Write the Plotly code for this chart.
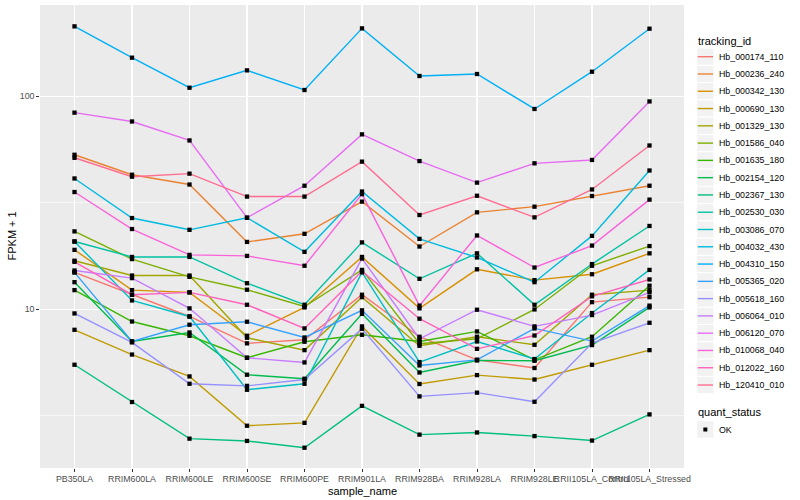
import plotly.graph_objects as go

# ---------------- data ----------------
samples = ["PB350LA", "RRIM600LA", "RRIM600LE", "RRIM600SE", "RRIM600PE", "RRIM901LA",
           "RRIM928BA", "RRIM928LA", "RRIM928LE", "RRII105LA_Control", "RRII105LA_Stressed"]

tracking_ids = ["Hb_000174_110", "Hb_000236_240", "Hb_000342_130", "Hb_000690_130", "Hb_001329_130",
                "Hb_001586_040", "Hb_001635_180", "Hb_002154_120", "Hb_002367_130", "Hb_002530_030",
                "Hb_003086_070", "Hb_004032_430", "Hb_004310_150", "Hb_005365_020", "Hb_005618_160",
                "Hb_006064_010", "Hb_006120_070", "Hb_010068_040", "Hb_012022_160", "Hb_120410_010"]

colors = ["#F8766D", "#EA8331", "#D89000", "#C09B00", "#A3A500", "#7CAE00", "#39B600", "#00BB4E",
          "#00BF7D", "#00C1A3", "#00BFC4", "#00BAE0", "#00B0F6", "#35A2FF", "#9590FF", "#C77CFF",
          "#E76BF3", "#FA62DB", "#FF62BC", "#FF6C91"]

s_000174_110 = [14.9, 11.7, 9.25, 6.92, 7.19, 11.7, 7.43, 5.79, 5.30, 10.8, 11.4]
s_000236_240 = [53.1, 42.8, 38.5, 20.7, 22.6, 32.0, 19.7, 28.5, 30.3, 34.0, 38.0]
s_000342_130 = [19.0, 12.3, 12.0, 7.51, 10.2, 17.6, 10.1, 15.4, 13.7, 14.6, 18.3]
s_000690_130 = [8.01, 6.13, 4.84, 2.84, 2.93, 8.31, 4.46, 4.91, 4.68, 5.49, 6.43]
s_001329_130 = [16.9, 14.4, 14.4, 7.35, 6.43, 11.4, 6.74, 7.43, 6.81, 11.7, 12.3]
s_001586_040 = [23.2, 17.2, 14.2, 12.35, 10.3, 15.3, 6.89, 7.27, 9.98, 16.0, 19.8]
s_001635_180 = [12.3, 8.76, 7.51, 5.92, 7.04, 7.59, 7.06, 7.87, 5.79, 7.43, 12.9]
s_002154_120 = [13.4, 7.06, 7.78, 4.93, 4.72, 9.52, 5.05, 5.75, 5.73, 6.79, 10.2]
s_002367_130 = [5.49, 3.67, 2.47, 2.41, 2.24, 3.52, 2.58, 2.64, 2.54, 2.42, 3.21]
s_002530_030 = [20.8, 17.6, 17.6, 13.25, 10.5, 20.6, 13.9, 18.3, 10.5, 16.3, 24.6]
s_003086_070 = [20.8, 11.0, 9.25, 4.19, 4.47, 14.9, 5.65, 7.06, 5.84, 9.60, 15.3]
s_004032_430 = [41.1, 26.8, 23.6, 26.9, 18.6, 35.7, 21.4, 17.5, 13.4, 22.1, 44.8]
s_004310_150 = [212.7, 151.6, 109.6, 132.2, 106.9, 208.1, 124.4, 127.1, 87.1, 130.3, 207.4]
s_005365_020 = [14.9, 7.06, 8.46, 8.74, 7.37, 9.89, 5.45, 5.79, 8.13, 7.09, 10.4]
s_005618_160 = [9.56, 6.99, 4.47, 4.37, 4.68, 8.10, 3.90, 4.06, 3.68, 6.94, 8.64]
s_006064_010 = [15.2, 14.0, 10.1, 5.92, 5.63, 17.3, 7.27, 9.95, 8.31, 9.39, 12.0]
s_006120_070 = [83.7, 76.1, 62.0, 26.9, 38.0, 66.2, 49.6, 39.3, 48.4, 50.2, 94.5]
s_010068_040 = [35.5, 23.8, 18.0, 17.8, 16.0, 34.7, 10.4, 22.2, 15.7, 19.9, 32.7]
s_012022_160 = [16.7, 11.7, 12.0, 10.5, 8.13, 15.1, 9.03, 6.52, 7.53, 11.5, 13.8]
s_120410_010 = [51.4, 41.9, 43.3, 33.8, 33.8, 49.3, 27.7, 34.1, 27.0, 36.5, 58.7]

series_values = [s_000174_110, s_000236_240, s_000342_130, s_000690_130, s_001329_130,
                 s_001586_040, s_001635_180, s_002154_120, s_002367_130, s_002530_030,
                 s_003086_070, s_004032_430, s_004310_150, s_005365_020, s_005618_160,
                 s_006064_010, s_006120_070, s_010068_040, s_012022_160, s_120410_010]

quant_status = ["OK"]
y_tick_vals = [10, 100]
y_tick_text = ["10", "100"]
y_minor_vals = [3.1623, 31.623]

FONT = "Liberation Sans, Arial, Helvetica, sans-serif"

# ---------------- figure ----------------
fig = go.Figure()

for name, vals, col in zip(tracking_ids, series_values, colors):
    fig.add_trace(go.Scatter(x=samples, y=vals, mode="lines", name=name,
                             line=dict(color=col, width=1.4), showlegend=False))

for name, vals in zip(tracking_ids, series_values):
    fig.add_trace(go.Scatter(x=samples, y=vals, mode="markers", name=name + " (OK)",
                             marker=dict(color="black", size=4.3, symbol="square"),
                             showlegend=False))

# plot-area geometry (pixels) for placing the legend-like guide
L, R, T, B = 40, 116, 5, 32
W, H = 800, 500
PW, PH = W - L - R, H - T - B


def px_x(x):
    return (x - L) / PW


def px_y(y):
    return (H - B - y) / PH


shapes = []
annotations = []

# legend: tracking_id
annotations.append(dict(x=px_x(696), y=px_y(40.7), xref="paper", yref="paper", text="tracking_id",
                        showarrow=False, xanchor="left", yanchor="middle",
                        font=dict(family=FONT, size=11, color="black")))
key = 17.28
for i, (name, col) in enumerate(zip(tracking_ids, colors)):
    cy = 56.7 + key * i
    x0, x1 = 696.7, 696.7 + key
    shapes.append(dict(type="rect", xref="paper", yref="paper", x0=px_x(x0), x1=px_x(x1),
                       y0=px_y(cy - key / 2), y1=px_y(cy + key / 2),
                       fillcolor="#F2F2F2", line=dict(color="white", width=1), layer="above"))
    shapes.append(dict(type="line", xref="paper", yref="paper", x0=px_x(x0 + 1), x1=px_x(x1 - 1),
                       y0=px_y(cy), y1=px_y(cy), line=dict(color=col, width=1.4), layer="above"))
    annotations.append(dict(x=px_x(717), y=px_y(cy), xref="paper", yref="paper", text=name,
                            showarrow=False, xanchor="left", yanchor="middle",
                            font=dict(family=FONT, size=8.8, color="black")))

# legend: quant_status
annotations.append(dict(x=px_x(696), y=px_y(412.3), xref="paper", yref="paper", text="quant_status",
                        showarrow=False, xanchor="left", yanchor="middle",
                        font=dict(family=FONT, size=11, color="black")))
cy = 429.5
shapes.append(dict(type="rect", xref="paper", yref="paper", x0=px_x(696.7), x1=px_x(696.7 + key),
                   y0=px_y(cy - key / 2), y1=px_y(cy + key / 2),
                   fillcolor="#F2F2F2", line=dict(color="white", width=1), layer="above"))
shapes.append(dict(type="rect", xref="paper", yref="paper", x0=px_x(705.34 - 2.0), x1=px_x(705.34 + 2.0),
                   y0=px_y(cy - 2.0), y1=px_y(cy + 2.0), fillcolor="black",
                   line=dict(color="black", width=0), layer="above"))
annotations.append(dict(x=px_x(717), y=px_y(cy), xref="paper", yref="paper", text=quant_status[0],
                        showarrow=False, xanchor="left", yanchor="middle",
                        font=dict(family=FONT, size=8.8, color="black")))

# axis titles
annotations.append(dict(x=0.5, y=px_y(491), xref="paper", yref="paper", text="sample_name",
                        showarrow=False, xanchor="center", yanchor="middle",
                        font=dict(family=FONT, size=11, color="black")))
annotations.append(dict(x=px_x(11), y=0.5, xref="paper", yref="paper", text="FPKM + 1",
                        showarrow=False, xanchor="center", yanchor="middle", textangle=-90,
                        font=dict(family=FONT, size=11, color="black")))

fig.update_layout(
    width=W, height=H,
    margin=dict(l=L, r=R, t=T, b=B, pad=0),
    paper_bgcolor="white",
    plot_bgcolor="#EBEBEB",
    font=dict(family=FONT, size=8.8, color="#4D4D4D"),
    showlegend=False,
    hovermode=False,
    shapes=shapes,
    annotations=annotations,
    xaxis=dict(type="category", categoryorder="array", categoryarray=samples,
               range=[-0.6, len(samples) - 0.4], showgrid=True, gridcolor="white", gridwidth=1.2,
               zeroline=False, showline=False, ticks="outside", ticklen=2.75, tickwidth=1,
               tickcolor="#333333", tickangle=0,
               tickfont=dict(family=FONT, size=8.8, color="#4D4D4D")),
    yaxis=dict(type="log", range=[0.255, 2.428], tickmode="array", tickvals=y_tick_vals,
               ticktext=y_tick_text, showgrid=True, gridcolor="white", gridwidth=1.2,
               zeroline=False, showline=False, ticks="outside", ticklen=2.75, tickwidth=1,
               tickcolor="#333333",
               tickfont=dict(family=FONT, size=8.8, color="#4D4D4D"),
               minor=dict(tickmode="array", tickvals=y_minor_vals, showgrid=True,
                          gridcolor="white", gridwidth=0.6, ticks="")),
)

fig.write_html("out.html", config={"displayModeBar": False, "staticPlot": True},
               post_script="document.body.style.margin='0';document.body.style.padding='0';")
